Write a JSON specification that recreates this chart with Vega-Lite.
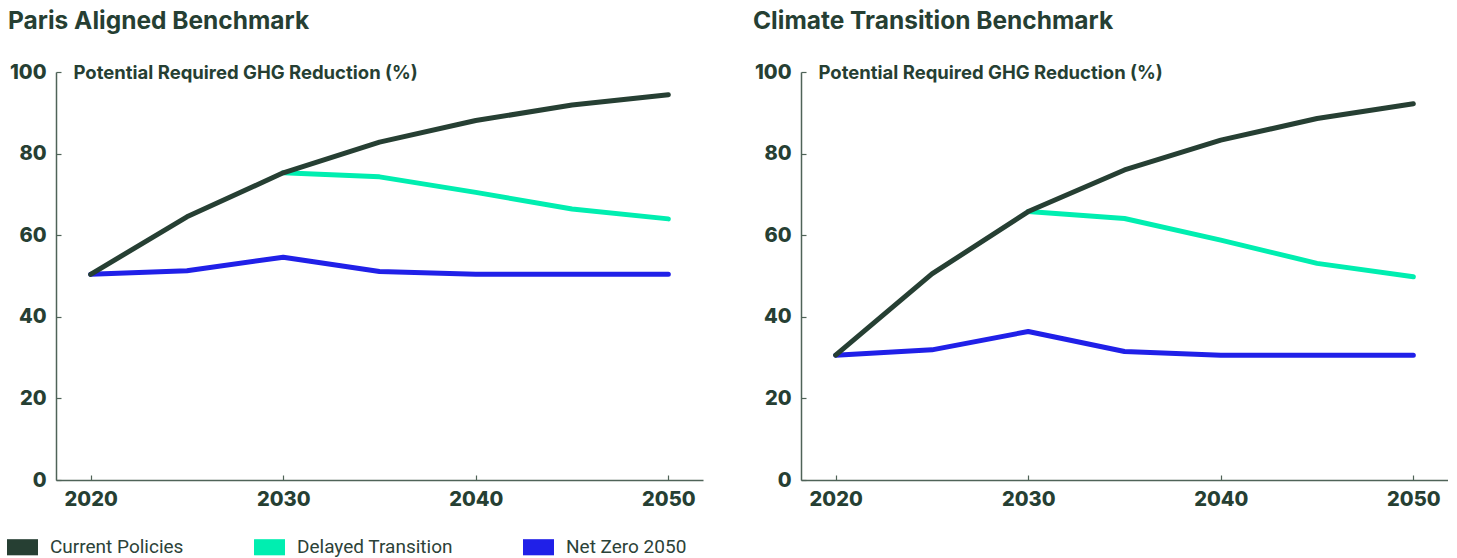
{
  "$schema": "https://vega.github.io/schema/vega-lite/v6.json",
  "padding": {"left": 7, "top": 8, "right": 0, "bottom": 0},
  "background": "white",
  "config": {
    "view": {"stroke": null},
    "font": "Inter",
    "axis": {
      "grid": false,
      "domainColor": "#4f6358",
      "domainWidth": 1.5,
      "tickColor": "#4f6358",
      "tickWidth": 1.2,
      "tickSize": -5,
      "labelFont": "Inter",
      "labelFontSize": 20,
      "labelFontWeight": 800,
      "labelColor": "#263f33",
      "labelFlush": false,
      "labelOverlap": false
    }
  },
  "data": {
    "values": [
      {"bench": "Paris", "scenario": "Net Zero 2050", "year": 2020, "value": 50.4},
      {"bench": "Paris", "scenario": "Net Zero 2050", "year": 2025, "value": 51.3},
      {"bench": "Paris", "scenario": "Net Zero 2050", "year": 2030, "value": 54.6},
      {"bench": "Paris", "scenario": "Net Zero 2050", "year": 2035, "value": 51.1},
      {"bench": "Paris", "scenario": "Net Zero 2050", "year": 2040, "value": 50.4},
      {"bench": "Paris", "scenario": "Net Zero 2050", "year": 2045, "value": 50.4},
      {"bench": "Paris", "scenario": "Net Zero 2050", "year": 2050, "value": 50.4},
      {"bench": "Paris", "scenario": "Delayed Transition", "year": 2030, "value": 75.3},
      {"bench": "Paris", "scenario": "Delayed Transition", "year": 2035, "value": 74.3},
      {"bench": "Paris", "scenario": "Delayed Transition", "year": 2040, "value": 70.5},
      {"bench": "Paris", "scenario": "Delayed Transition", "year": 2045, "value": 66.4},
      {"bench": "Paris", "scenario": "Delayed Transition", "year": 2050, "value": 64.0},
      {"bench": "Paris", "scenario": "Current Policies", "year": 2020, "value": 50.4},
      {"bench": "Paris", "scenario": "Current Policies", "year": 2025, "value": 64.5},
      {"bench": "Paris", "scenario": "Current Policies", "year": 2030, "value": 75.3},
      {"bench": "Paris", "scenario": "Current Policies", "year": 2035, "value": 82.8},
      {"bench": "Paris", "scenario": "Current Policies", "year": 2040, "value": 88.1},
      {"bench": "Paris", "scenario": "Current Policies", "year": 2045, "value": 91.9},
      {"bench": "Paris", "scenario": "Current Policies", "year": 2050, "value": 94.4},
      {"bench": "Climate", "scenario": "Net Zero 2050", "year": 2020, "value": 30.6},
      {"bench": "Climate", "scenario": "Net Zero 2050", "year": 2025, "value": 31.9},
      {"bench": "Climate", "scenario": "Net Zero 2050", "year": 2030, "value": 36.4},
      {"bench": "Climate", "scenario": "Net Zero 2050", "year": 2035, "value": 31.5},
      {"bench": "Climate", "scenario": "Net Zero 2050", "year": 2040, "value": 30.6},
      {"bench": "Climate", "scenario": "Net Zero 2050", "year": 2045, "value": 30.6},
      {"bench": "Climate", "scenario": "Net Zero 2050", "year": 2050, "value": 30.6},
      {"bench": "Climate", "scenario": "Delayed Transition", "year": 2030, "value": 65.8},
      {"bench": "Climate", "scenario": "Delayed Transition", "year": 2035, "value": 64.1},
      {"bench": "Climate", "scenario": "Delayed Transition", "year": 2040, "value": 58.8},
      {"bench": "Climate", "scenario": "Delayed Transition", "year": 2045, "value": 53.1},
      {"bench": "Climate", "scenario": "Delayed Transition", "year": 2050, "value": 49.8},
      {"bench": "Climate", "scenario": "Current Policies", "year": 2020, "value": 30.6},
      {"bench": "Climate", "scenario": "Current Policies", "year": 2025, "value": 50.5},
      {"bench": "Climate", "scenario": "Current Policies", "year": 2030, "value": 65.8},
      {"bench": "Climate", "scenario": "Current Policies", "year": 2035, "value": 76.0},
      {"bench": "Climate", "scenario": "Current Policies", "year": 2040, "value": 83.3},
      {"bench": "Climate", "scenario": "Current Policies", "year": 2045, "value": 88.6},
      {"bench": "Climate", "scenario": "Current Policies", "year": 2050, "value": 92.2}
    ]
  },
  "bounds": "flush",
  "spacing": 98,
  "resolve": {"scale": {"color": "shared"}, "legend": {"color": "shared"}},
  "hconcat": [
    {
      "title": {"text": "Paris Aligned Benchmark", "anchor": "start", "frame": "group", "dx": -48, "offset": 9, "baseline": "alphabetic", "font": "Inter", "fontSize": 24.5, "fontWeight": 700, "color": "#263f33"},
      "width": 647,
      "height": 408,
      "transform": [{"filter": "datum.bench === 'Paris'"}],
      "mark": {"type": "line", "strokeWidth": 5, "strokeCap": "round", "strokeJoin": "round"},
      "encoding": {
        "x": {"field": "year", "type": "quantitative", "scale": {"domain": [2018.2, 2051.8], "nice": false, "zero": false},
              "axis": {"values": [2020, 2030, 2040, 2050], "format": "d", "title": null, "labelPadding": 14}},
        "y": {"field": "value", "type": "quantitative", "scale": {"domain": [0, 100], "nice": false},
              "axis": {"values": [0, 20, 40, 60, 80, 100], "labelPadding": 15, "title": "Potential Required GHG Reduction (%)", "titleAngle": 0, "titleX": 17, "titleY": 0, "titleAlign": "left", "titleBaseline": "middle", "titleFont": "Inter", "titleFontSize": 18.5, "titleFontWeight": 700, "titleColor": "#263f33"}},
        "color": {"field": "scenario", "type": "nominal",
                  "scale": {"domain": ["Current Policies", "Delayed Transition", "Net Zero 2050"], "range": ["#263f33", "#00eeb0", "#2020e8"]},
                  "legend": {"title": null, "orient": "none", "legendX": -49, "legendY": 459.5, "direction": "horizontal", "columns": 3, "columnPadding": 70,
                             "symbolType": "M-1,-0.52H1V0.52H-1Z", "symbolSize": 961, "symbolStrokeWidth": 0, "labelOffset": 12,
                             "labelFont": "Roboto", "labelFontSize": 19, "labelFontWeight": 400, "labelColor": "#2c4238", "labelLimit": 400,
                             "encode": {"symbols": {"update": {"fill": {"scale": "color", "field": "value"}, "strokeWidth": {"value": 0}}}}}}
      }
    },
    {
      "title": {"text": "Climate Transition Benchmark", "anchor": "start", "frame": "group", "dx": -48, "offset": 9, "baseline": "alphabetic", "font": "Inter", "fontSize": 24.5, "fontWeight": 700, "color": "#263f33"},
      "width": 647,
      "height": 408,
      "transform": [{"filter": "datum.bench === 'Climate'"}],
      "mark": {"type": "line", "strokeWidth": 5, "strokeCap": "round", "strokeJoin": "round"},
      "encoding": {
        "x": {"field": "year", "type": "quantitative", "scale": {"domain": [2018.2, 2051.8], "nice": false, "zero": false},
              "axis": {"values": [2020, 2030, 2040, 2050], "format": "d", "title": null, "labelPadding": 14}},
        "y": {"field": "value", "type": "quantitative", "scale": {"domain": [0, 100], "nice": false},
              "axis": {"values": [0, 20, 40, 60, 80, 100], "labelPadding": 15, "title": "Potential Required GHG Reduction (%)", "titleAngle": 0, "titleX": 17, "titleY": 0, "titleAlign": "left", "titleBaseline": "middle", "titleFont": "Inter", "titleFontSize": 18.5, "titleFontWeight": 700, "titleColor": "#263f33"}},
        "color": {"field": "scenario", "type": "nominal"}
      }
    }
  ]
}
